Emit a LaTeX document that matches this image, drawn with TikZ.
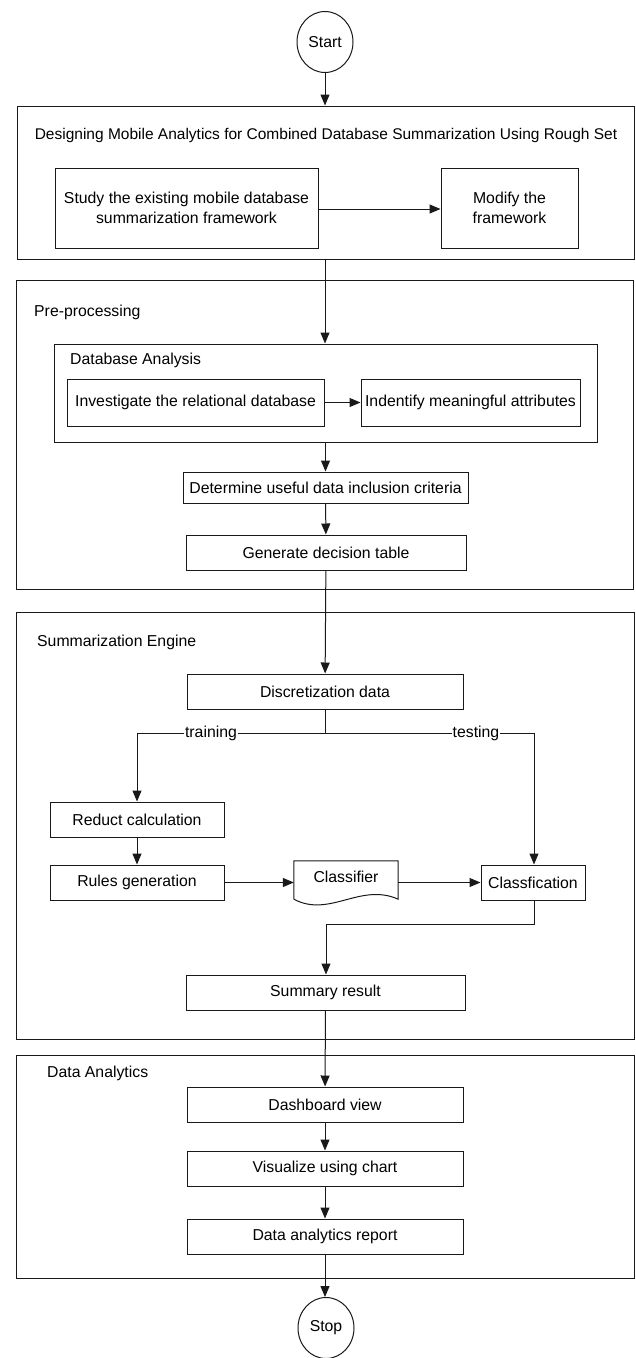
\documentclass[tikz,border=0pt]{standalone}
\usepackage{fontspec}
\setmainfont{Liberation Sans}
\usetikzlibrary{arrows.meta,shapes.geometric,calc}
\begin{document}
\begin{tikzpicture}[x=1pt,y=-1pt,
  every node/.style={font=\fontsize{15.8}{20}\selectfont, inner sep=0pt, text=black},
  line/.style={draw=black!90, line width=1pt},
  arr/.style={line, -{Triangle[length=11pt,width=9pt]}},
  box/.style={draw=black!90, line width=1pt, rectangle, align=center},
  frame/.style={draw=black!90, line width=1pt, rectangle},
  term/.style={draw=black!90, line width=1pt, ellipse, minimum width=56pt, minimum height=61pt},
  lbl/.style={fill=white, inner xsep=1pt}
]
\useasboundingbox (0,0) rectangle (635,1358);

% terminals
\node[term] (start) at (325,42) {Start};
\node[term] (stop) at (326,1328) {Stop};

% frames
\node[frame, minimum width=617pt, minimum height=153pt] (design) at (325.5,182.5) {};
\node[font=\fontsize{15.5}{20}\selectfont] (dtitle) at (326,135) {Designing Mobile Analytics for Combined Database Summarization Using Rough Set};
\node[frame, minimum width=617pt, minimum height=309pt] (pre) at (324.5,434.5) {};
\node[anchor=west] (pretitle) at (34,312) {Pre-processing};
\node[frame, minimum width=543pt, minimum height=98pt] (dbana) at (325.5,393) {};
\node[anchor=west] (dbtitle) at (70,360) {Database Analysis};
\node[frame, minimum width=618pt, minimum height=427pt] (sum) at (325,825.5) {};
\node[anchor=west] (sumtitle) at (37,642) {Summarization Engine};
\node[frame, minimum width=618pt, minimum height=223pt] (dan) at (325,1166.5) {};
\node[anchor=west] (dantitle) at (47,1073) {Data Analytics};

% boxes
\node[box, minimum width=263pt, minimum height=80pt] (study) at (186.5,208) {Study the existing mobile database\\summarization framework};
\node[box, minimum width=137pt, minimum height=80pt] (modify) at (509.5,208) {Modify the\\framework};
\node[box, minimum width=257pt, minimum height=47pt] (invest) at (195.5,402.5) {Investigate the relational database};
\node[box, minimum width=219pt, minimum height=47pt] (ident) at (470.5,402.5) {Indentify meaningful attributes};
\node[box, minimum width=285pt, minimum height=31pt] (determ) at (325.5,487.5) {Determine useful data inclusion criteria};
\node[box, minimum width=280pt, minimum height=35pt] (gen) at (326,552.5) {Generate decision table};
\node[box, minimum width=276pt, minimum height=35pt] (disc) at (325,691.5) {Discretization data};
\node[box, minimum width=174pt, minimum height=35pt] (reduct) at (137,819.5) {Reduct calculation};
\node[box, minimum width=174pt, minimum height=35pt] (rules) at (137,882.5) {Rules generation};
\node[minimum width=104pt, minimum height=38pt] (cl) at (346,880) {};
\node (cltext) at (346,877) {Classifier};
\node[box, minimum width=104pt, minimum height=35pt] (clsf) at (533,882.5) {Classfication};
\node[box, minimum width=279pt, minimum height=35pt] (summ) at (325.5,992.5) {Summary result};
\node[box, minimum width=276pt, minimum height=35pt] (dash) at (325,1104.5) {Dashboard view};
\node[box, minimum width=276pt, minimum height=35pt] (vis) at (325,1168.5) {Visualize using chart};
\node[box, minimum width=276pt, minimum height=35pt] (rep) at (325,1236.5) {Data analytics report};

% document shape of classifier
\draw[line] (cl.south west) -- (cl.north west) -- (cl.north east) -- (cl.south east)
  .. controls +(-38,-17) and +(36,19) .. (cl.south west);

% coordinates
\coordinate (br) at (326,733);
\coordinate (brl) at (137,733);
\coordinate (brr) at (534,733);
\coordinate (mg) at (534,924);
\coordinate (mg2) at (326,924);

% connectors
\draw[arr] (start.south) -- (start.south |- design.north);
\draw[arr] (study.east |- 0,209) -- (modify.west |- 0,209);
\draw[arr] (start.south |- design.south) -- (start.south |- dbana.north);
\draw[arr] (invest) -- (ident);
\draw[arr] (dbana.south -| determ.north) -- (determ.north);
\draw[arr] (determ) -- (gen);
\draw[arr] (gen) -- (disc);
\draw[line] (disc.south) -- (disc.south |- br);
\draw[arr] (br) -- (brl) -- (reduct.north);
\draw[arr] (br) -- (brr) -- (brr |- clsf.north);
\node[lbl] (train) at (211,733) {training};
\node[lbl] (test) at (476,733) {testing};
\draw[arr] (reduct) -- (rules);
\draw[arr] (rules.east) -- (rules.east -| cl.west);
\draw[arr] (cl.east |- clsf.west) -- (clsf.west);
\draw[arr] (clsf.south -| mg) -- (mg) -- (mg2) -- (mg2 |- summ.north);
\draw[arr] (summ) -- (dash);
\draw[arr] (dash) -- (vis);
\draw[arr] (vis) -- (rep);
\draw[arr] (rep.south) -- (rep.south |- stop.north);
\end{tikzpicture}
\end{document}
